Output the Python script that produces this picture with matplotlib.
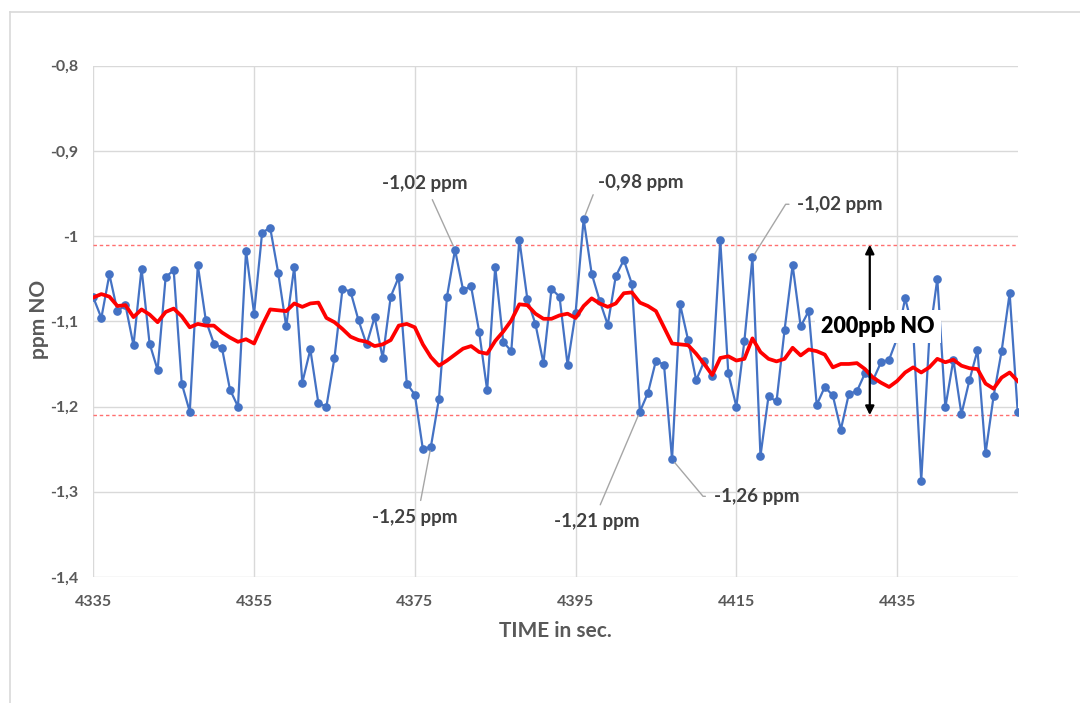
import matplotlib
matplotlib.use("Agg")
import matplotlib.pyplot as plt
from matplotlib.lines import Line2D

plt.rcParams['font.family'] = ['Lato', 'DejaVu Sans']

# ---------------- data ----------------
time_start = 4335
no_ppm = [
    -1.072, -1.096, -1.045, -1.088, -1.081, -1.128, -1.038, -1.126, -1.157, -1.048,
    -1.040, -1.173, -1.206, -1.034, -1.099, -1.126, -1.131, -1.180, -1.200, -1.017,
    -1.091, -0.996, -0.990, -1.043, -1.106, -1.036, -1.172, -1.133, -1.196, -1.200,
    -1.143, -1.062, -1.065, -1.099, -1.127, -1.095, -1.143, -1.071, -1.048, -1.173,
    -1.186, -1.250, -1.247, -1.191, -1.071, -1.016, -1.063, -1.059, -1.112, -1.181,
    -1.036, -1.124, -1.135, -1.004, -1.074, -1.103, -1.149, -1.062, -1.071, -1.151,
    -1.090, -0.980, -1.044, -1.076, -1.104, -1.047, -1.028, -1.056, -1.206, -1.184,
    -1.146, -1.151, -1.262, -1.080, -1.122, -1.169, -1.147, -1.164, -1.005, -1.161,
    -1.200, -1.123, -1.025, -1.258, -1.188, -1.194, -1.110, -1.034, -1.106, -1.088,
    -1.198, -1.177, -1.187, -1.227, -1.185, -1.182, -1.161, -1.169, -1.148, -1.145,
    -1.120, -1.073, -1.110, -1.287, -1.120, -1.050, -1.201, -1.145, -1.209, -1.169,
    -1.134, -1.255, -1.188, -1.135, -1.067, -1.206,
]
moving_avg = [
    -1.072, -1.068, -1.071, -1.082, -1.081, -1.095, -1.086, -1.092, -1.101, -1.089,
    -1.085, -1.094, -1.107, -1.103, -1.105, -1.105, -1.113, -1.119, -1.124, -1.121,
    -1.126, -1.105, -1.086, -1.087, -1.088, -1.079, -1.083, -1.079, -1.078, -1.096,
    -1.101, -1.109, -1.118, -1.122, -1.124, -1.129, -1.127, -1.122, -1.105, -1.103,
    -1.107, -1.127, -1.142, -1.152, -1.146, -1.139, -1.132, -1.129, -1.136, -1.138,
    -1.123, -1.112, -1.099, -1.080, -1.081, -1.091, -1.097, -1.097, -1.093, -1.091,
    -1.096, -1.082, -1.073, -1.079, -1.083, -1.079, -1.067, -1.066, -1.078, -1.082,
    -1.088, -1.107, -1.126, -1.127, -1.128, -1.138, -1.150, -1.163, -1.143, -1.141,
    -1.146, -1.144, -1.120, -1.136, -1.144, -1.147, -1.144, -1.131, -1.140, -1.133,
    -1.135, -1.139, -1.154, -1.150, -1.150, -1.149, -1.156, -1.166, -1.172, -1.177,
    -1.170, -1.160, -1.154, -1.160, -1.154, -1.144, -1.148, -1.145, -1.152, -1.155,
    -1.156, -1.173, -1.179, -1.166, -1.160, -1.170,
]
time_s = [time_start + i for i in range(len(no_ppm))]

ref_levels = [-1.01, -1.21]
band_label = "200ppb NO"

x_ticks = [4335, 4355, 4375, 4395, 4415, 4435]
y_ticks = [-1.4, -1.3, -1.2, -1.1, -1.0, -0.9, -0.8]
y_tick_labels = ['-1,4', '-1,3', '-1,2', '-1,1', '-1', '-0,9', '-0,8']

# callouts: (time of marked point, label)
callout_times = [4380, 4396, 4417, 4377, 4403, 4407]
callout_labels = ['-1,02 ppm', '-0,98 ppm', '-1,02 ppm', '-1,25 ppm', '-1,21 ppm', '-1,26 ppm']

# ---------------- figure ----------------
fig = plt.figure(figsize=(10.8, 7.03), dpi=100)
ax = fig.add_axes([0.0864, 0.17923, 0.8559, 0.72731])

grid_c = '#D9D9D9'
txt_c = '#595959'

ax.set_xlim(4335, 4450)
ax.set_ylim(-1.4, -0.8)
ax.set_xticks(x_ticks)
ax.set_xticklabels([str(t) for t in x_ticks])
ax.set_yticks(y_ticks)
ax.set_yticklabels(y_tick_labels)
ax.grid(True, color=grid_c, lw=1.0)
ax.set_axisbelow(True)
for s in ax.spines.values():
    s.set_visible(False)
ax.tick_params(length=0, labelsize=11.5, labelcolor=txt_c)
ax.tick_params(axis='y', pad=11)
ax.tick_params(axis='x', pad=13)
for lab in ax.get_xticklabels() + ax.get_yticklabels():
    lab.set_fontweight('bold')

# reference dashed lines
for lvl in ref_levels:
    ax.axhline(lvl, color='#FF7070', lw=1.0, dashes=(2.5, 2), zorder=2)

# blue data series
ax.plot(time_s, no_ppm, color='#4472C4', lw=1.6, marker='o', ms=5.2,
        markeredgecolor='#4472C4', zorder=3)
# red moving average
ax.plot(time_s, moving_avg, color='#FF0000', lw=2.7, zorder=4,
        solid_joinstyle='round')

# axis titles
ax.set_xlabel('TIME in sec.', fontsize=15, fontweight='bold', color=txt_c)
ax.xaxis.set_label_coords(0.4995, -0.086)
ax.set_ylabel('ppm NO', fontsize=15, fontweight='bold', color=txt_c)
ax.yaxis.set_label_coords(-0.048, 0.503)

# callouts
def val_at(t):
    return no_ppm[time_s.index(t)]

lead_c = '#A6A6A6'
callout_layout = [
    # text position, relpos, connectionstyle
    ((4376.2, -0.938), (0.55, 0.0), 'arc3'),
    ((4403.1, -0.937), (0.0, 0.5), 'arc3'),
    ((4427.9, -0.9626), (0.0, 0.5), 'angle,angleA=0,angleB=58,rad=0'),
    ((4375.0, -1.3298), (0.55, 1.0), 'arc3'),
    ((4397.65, -1.3345), (0.5, 1.0), 'arc3'),
    ((4417.5, -1.3053), (0.0, 0.5), 'angle,angleA=0,angleB=-50,rad=0'),
]
for t, lab, (pos, rp, cs) in zip(callout_times, callout_labels, callout_layout):
    ax.annotate(lab, xy=(t, val_at(t)), xytext=pos, ha='center', va='center',
                fontsize=13.5, fontweight='bold', color='#404040', zorder=6,
                arrowprops=dict(arrowstyle='-', color=lead_c, lw=1.0,
                                relpos=rp, connectionstyle=cs,
                                shrinkA=4, shrinkB=3))

# 200 ppb band arrow
band_x = 4431.6
ax.annotate('', xy=(band_x, ref_levels[1]), xytext=(band_x, ref_levels[0]),
            arrowprops=dict(arrowstyle='<|-|>', color='black', lw=1.6,
                            mutation_scale=13, shrinkA=0, shrinkB=0),
            zorder=7)
ax.text(4432.6, (ref_levels[0] + ref_levels[1]) / 2 + 0.004, band_label,
        ha='center', va='center', fontsize=15.5, fontweight='heavy', color='black',
        zorder=8, bbox=dict(boxstyle='square,pad=0.3', fc='white', ec='none'))

# chart-area border (left and top)
fig.add_artist(Line2D([9.5 / 1080, 9.5 / 1080], [0, 1 - 11.5 / 703],
                      transform=fig.transFigure, color=grid_c, lw=1.2))
fig.add_artist(Line2D([9.5 / 1080, 1], [1 - 11.5 / 703, 1 - 11.5 / 703],
                      transform=fig.transFigure, color=grid_c, lw=1.2))

fig.savefig('out.png', dpi=100, facecolor='white')
